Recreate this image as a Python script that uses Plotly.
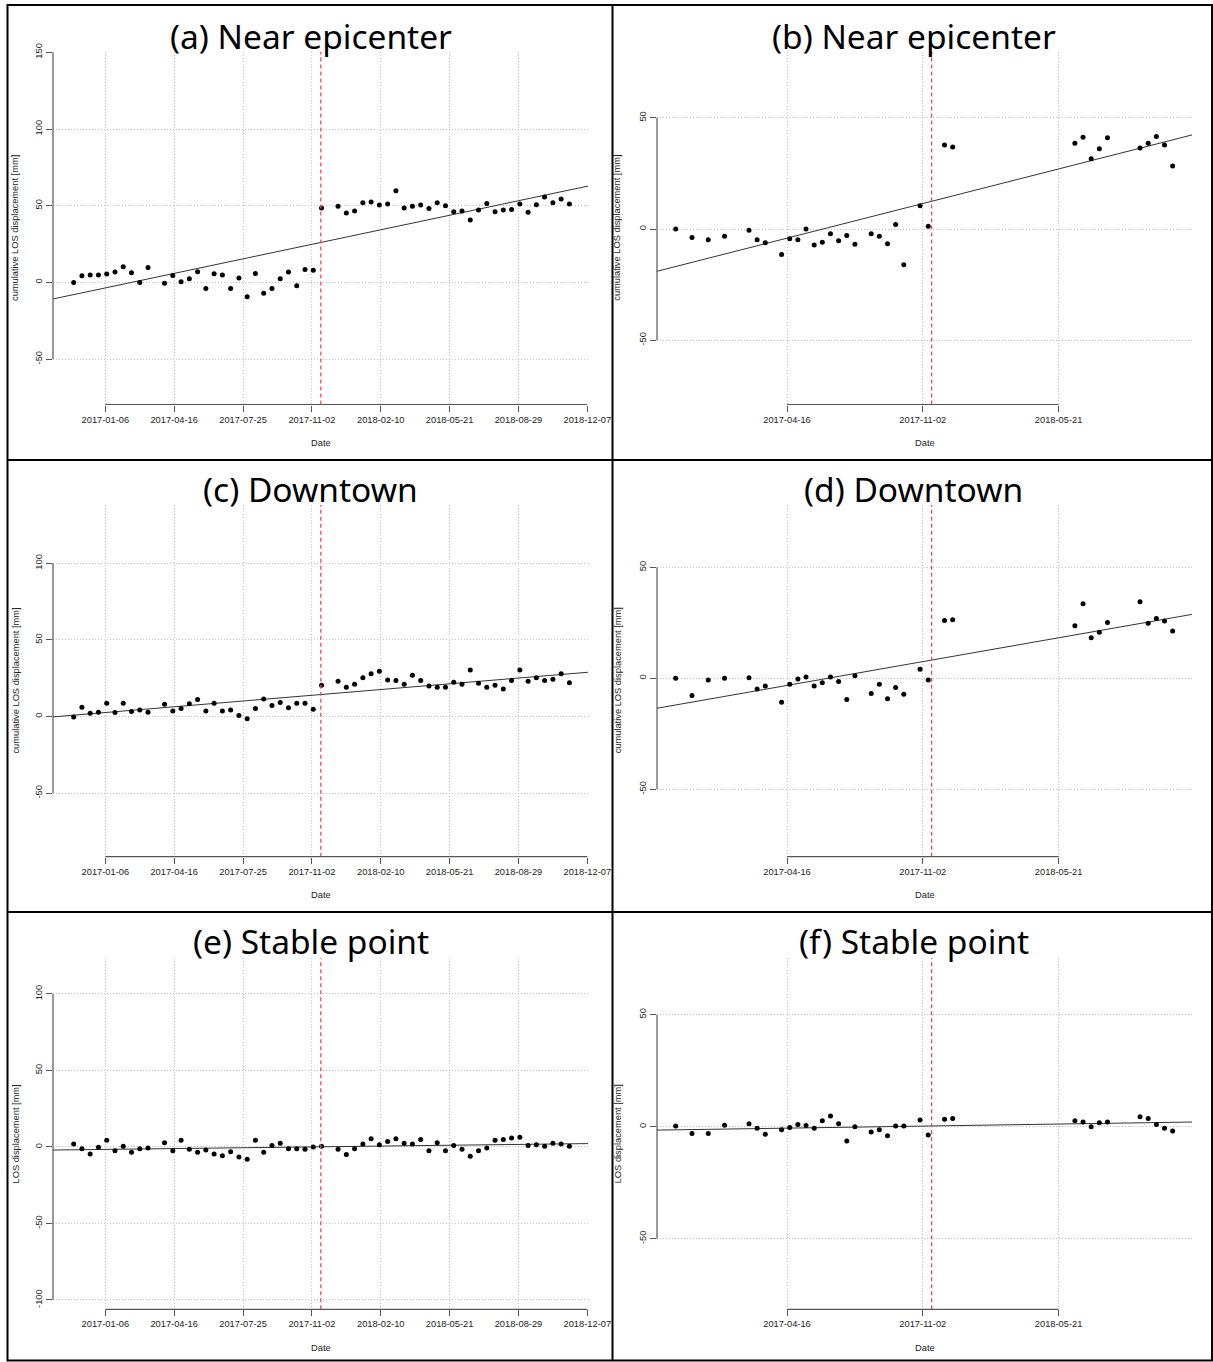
import plotly.graph_objects as go

W, H = 1213, 1362

# ---------------- data ----------------
# acquisition dates, track used in (a), (c), (e)
dates_track1 = [
    "2016-11-21", "2016-12-03", "2016-12-15", "2016-12-27", "2017-01-08", "2017-01-20",
    "2017-02-01", "2017-02-13", "2017-02-25", "2017-03-09", "2017-04-02", "2017-04-14",
    "2017-04-26", "2017-05-08", "2017-05-20", "2017-06-01", "2017-06-13", "2017-06-25",
    "2017-07-07", "2017-07-19", "2017-07-31", "2017-08-12", "2017-08-24", "2017-09-05",
    "2017-09-17", "2017-09-29", "2017-10-11", "2017-10-23", "2017-11-04", "2017-11-16",
    "2017-12-10", "2017-12-22", "2018-01-03", "2018-01-15", "2018-01-27", "2018-02-08",
    "2018-02-20", "2018-03-04", "2018-03-16", "2018-03-28", "2018-04-09", "2018-04-21",
    "2018-05-03", "2018-05-15", "2018-05-27", "2018-06-08", "2018-06-20", "2018-07-02",
    "2018-07-14", "2018-07-26", "2018-08-07", "2018-08-19", "2018-08-31", "2018-09-12",
    "2018-09-24", "2018-10-06", "2018-10-18", "2018-10-30", "2018-11-11",
]
# acquisition dates, track used in (b), (d), (f)
dates_track2 = [
    "2016-11-03", "2016-11-27", "2016-12-21", "2017-01-14", "2017-02-19", "2017-03-03",
    "2017-03-15", "2017-04-08", "2017-04-20", "2017-05-02", "2017-05-14", "2017-05-26",
    "2017-06-07", "2017-06-19", "2017-07-01", "2017-07-13", "2017-07-25", "2017-08-18",
    "2017-08-30", "2017-09-11", "2017-09-23", "2017-10-05", "2017-10-29", "2017-11-10",
    "2017-12-04", "2017-12-16", "2018-06-14", "2018-06-26", "2018-07-08", "2018-07-20",
    "2018-08-01", "2018-09-18", "2018-09-30", "2018-10-12", "2018-10-24", "2018-11-05",
]
quake_date = "2017-11-15"

los_a = [0.0, 4.3, 4.8, 4.8, 5.4, 6.7, 10.2, 6.3, 0.0, 9.7, -0.6, 4.5, 0.4, 2.4, 6.9,
         -3.9, 5.6, 4.8, -3.9, 2.8, -9.3, 5.8, -7.1, -3.9, 2.4, 6.7, -2.2, 8.4, 8.0,
         48.5, 49.6, 45.2, 46.5, 51.9, 52.4, 50.4, 51.1, 59.7, 48.5, 49.6, 50.4, 48.1,
         51.9, 50.0, 46.1, 46.5, 40.7, 47.2, 51.5, 46.1, 47.2, 47.6, 51.1, 45.7, 50.6,
         55.6, 51.9, 54.3, 51.1]
los_c = [-0.2, 6.1, 2.2, 2.8, 8.7, 2.6, 8.7, 3.3, 4.3, 2.8, 8.0, 3.7, 5.2, 8.3, 11.1,
         3.7, 8.7, 3.7, 4.3, 0.7, -1.5, 5.2, 11.5, 7.2, 9.1, 5.7, 8.7, 8.7, 4.8,
         20.4, 23.0, 19.1, 21.1, 25.4, 28.0, 29.6, 23.9, 23.5, 21.1, 27.0, 23.5, 20.0,
         19.1, 19.1, 22.4, 21.1, 30.4, 21.7, 19.1, 20.4, 18.0, 23.5, 30.4, 23.0, 25.4,
         23.5, 24.3, 28.0, 22.0]
los_e = [2.0, -1.1, -4.6, -0.2, 4.4, -2.4, 0.4, -3.5, -1.1, -0.7, 2.8, -2.4, 4.4, -1.5,
         -3.5, -2.0, -4.6, -5.7, -3.1, -6.5, -8.1, 4.4, -3.5, 0.9, 2.4, -1.1, -1.1, -1.5,
         0.0, 0.4, -1.5, -5.0, -1.1, 2.0, 5.4, 1.5, 3.5, 5.4, 2.4, 2.0, 4.8, -2.4, 2.8,
         -2.4, 0.9, -1.5, -6.1, -2.4, -0.7, 4.4, 4.8, 5.9, 6.3, 0.9, 1.5, 0.4, 2.4, 2.0, 0.4]
los_b = [0.0, -3.8, -4.8, -3.2, -0.6, -4.8, -6.2, -11.4, -4.4, -4.8, 0.0, -7.2, -5.9,
         -2.1, -5.3, -2.9, -6.9, -2.1, -3.2, -6.6, 2.0, -16.1, 10.5, 1.2, 37.8, 36.9,
         38.6, 41.3, 31.6, 36.1, 41.0, 36.4, 38.6, 41.6, 37.8, 28.3]
los_d = [0.0, -7.8, -0.8, 0.0, 0.3, -4.8, -3.5, -10.8, -2.7, -0.3, 0.6, -3.5, -2.0, 0.6,
         -1.4, -9.5, 1.1, -6.9, -2.7, -9.2, -4.1, -7.2, 4.1, -0.8, 26.1, 26.4, 23.7,
         33.6, 18.3, 20.7, 25.1, 34.5, 24.8, 27.0, 25.8, 21.3]
los_f = [0.3, -3.0, -3.0, 0.7, 1.3, -0.7, -3.4, -1.3, -0.3, 1.0, 0.6, -0.7, 2.7, 4.8,
         1.3, -6.4, 0.0, -2.4, -1.3, -4.0, 0.3, 0.3, 3.0, -3.7, 3.4, 3.7, 2.7, 2.1, 0.0,
         1.8, 2.1, 4.5, 3.7, 1.0, -0.7, -1.9]

# linear trend values at the start / end of each panel's date range
trend_a = [-10.8, 62.8]
trend_c = [-0.2, 28.9]
trend_e = [-2.0, 2.2]
trend_b = [-19.0, 42.3]
trend_d = [-13.5, 28.8]
trend_f = [-1.5, 2.1]

xticks_track1 = ["2017-01-06", "2017-04-16", "2017-07-25", "2017-11-02",
                 "2018-02-10", "2018-05-21", "2018-08-29", "2018-12-07"]
xticks_track2 = ["2017-04-16", "2017-11-02", "2018-05-21"]
yticks_a = [-50, 0, 50, 100, 150]
yticks_c = [-50, 0, 50, 100]
yticks_e = [-100, -50, 0, 50, 100]
yticks_bdf = [-50, 0, 50]

ytitle_cum = "cumulative LOS displacement [mm]"
ytitle_los = "LOS displacement [mm]"
xtitle = "Date"

# ---------------- layout geometry (pixels of the 1213x1362 page) ----------------
COL_X = [(53, 588), (657, 1192)]
ROW_Y = [(52, 404.5), (505, 856.7), (958.3, 1309.3)]
XRANGE = [["2016-10-22", "2018-12-08"], ["2016-10-06 12:00", "2018-12-03 12:00"]]
TITLE_Y = [36, 489, 941]
TITLE_X = [310.5, 913.5]
YTITLE_X = [15.7, 617.5]


def fx(px):
    return px / W


def fy(py):
    return 1 - py / H


panels = [
    ("(a) Near epicenter", 0, 0, dates_track1, los_a, trend_a, [-79.6, 150.2], yticks_a, ytitle_cum, xticks_track1),
    ("(b) Near epicenter", 0, 1, dates_track2, los_b, trend_b, [-78.9, 79.6], yticks_bdf, ytitle_cum, xticks_track2),
    ("(c) Downtown", 1, 0, dates_track1, los_c, trend_c, [-91.4, 138.0], yticks_c, ytitle_cum, xticks_track1),
    ("(d) Downtown", 1, 1, dates_track2, los_d, trend_d, [-80.4, 78.1], yticks_bdf, ytitle_cum, xticks_track2),
    ("(e) Stable point", 2, 0, dates_track1, los_e, trend_e, [-106.1, 123.3], yticks_e, ytitle_los, xticks_track1),
    ("(f) Stable point", 2, 1, dates_track2, los_f, trend_f, [-81.5, 75.2], yticks_bdf, ytitle_los, xticks_track2),
]

AX_COL = "#555555"
GRID_COL = "#c4c4c4"
TICK_FONT = dict(family="Liberation Sans, Arial, sans-serif", size=9.3, color="#222222")

fig = go.Figure()
shapes = []
annotations = []
layout_axes = {}

for i, (title, row, col, dates, vals, trend, yr, yt, ytitle, xt) in enumerate(panels):
    n = i + 1
    sfx = "" if n == 1 else str(n)
    xref, yref = "x" + sfx, "y" + sfx
    x0, x1 = COL_X[col]
    y0, y1 = ROW_Y[row]

    layout_axes["xaxis" + sfx] = dict(
        domain=[fx(x0), fx(x1)], anchor=yref, type="date", range=XRANGE[col], automargin=False,
        tickvals=xt, ticktext=xt, ticks="outside", ticklen=6, tickwidth=1, tickcolor=AX_COL,
        showline=False, zeroline=False, showgrid=True, gridcolor=GRID_COL, gridwidth=1,
        griddash="1px,2px", tickfont=TICK_FONT, fixedrange=True,
    )
    layout_axes["yaxis" + sfx] = dict(
        domain=[fy(y1), fy(y0)], anchor=xref, range=yr, automargin=False,
        tickvals=yt, ticktext=[str(v) for v in yt], tickangle=-90,
        ticks="outside", ticklen=6, tickwidth=1, tickcolor=AX_COL,
        showline=False, zeroline=False, showgrid=True, gridcolor=GRID_COL, gridwidth=1,
        griddash="1px,2px", tickfont=TICK_FONT, fixedrange=True,
    )

    # trend line
    fig.add_trace(go.Scatter(
        x=XRANGE[col], y=trend, mode="lines", xaxis=xref, yaxis=yref,
        line=dict(color="#333333", width=1), hoverinfo="skip", showlegend=False,
    ))
    # observations
    fig.add_trace(go.Scatter(
        x=dates, y=vals, mode="markers", xaxis=xref, yaxis=yref,
        marker=dict(color="black", size=5), showlegend=False,
    ))

    # earthquake line
    shapes.append(dict(type="line", xref=xref, yref=yref + " domain", x0=quake_date, x1=quake_date,
                       y0=0, y1=1, line=dict(color="rgb(255,70,70)", width=1.3, dash="4px,3px")))
    # R-style axis lines (span first to last tick only)
    shapes.append(dict(type="line", xref=xref, yref=yref + " domain", x0=xt[0], x1=xt[-1],
                       y0=0, y1=0, line=dict(color=AX_COL, width=1.2)))
    shapes.append(dict(type="line", xref=xref + " domain", yref=yref, x0=0, x1=0,
                       y0=yt[0], y1=yt[-1], line=dict(color=AX_COL, width=1.2)))

    # panel title
    annotations.append(dict(text=title, x=fx(TITLE_X[col]), y=fy(TITLE_Y[row]), xref="paper", yref="paper",
                            xanchor="center", yanchor="middle", showarrow=False,
                            font=dict(family="Noto Sans, sans-serif", size=33.5, color="black")))
    # y-axis title
    annotations.append(dict(text=ytitle, x=fx(YTITLE_X[col]), y=fy((y0 + y1) / 2), xref="paper", yref="paper",
                            xanchor="center", yanchor="middle", textangle=-90, showarrow=False,
                            font=TICK_FONT))
    # x-axis title
    annotations.append(dict(text=xtitle, x=fx((x0 + x1) / 2), y=fy(y1 + 38.5), xref="paper", yref="paper",
                            xanchor="center", yanchor="middle", showarrow=False, font=TICK_FONT))

# panel frame (table borders)
frame = dict(color="black", width=2)
shapes.append(dict(type="rect", xref="paper", yref="paper", x0=fx(7.5), x1=fx(1212), y0=fy(1360.5), y1=fy(5),
                   line=frame))
shapes.append(dict(type="line", xref="paper", yref="paper", x0=fx(612.5), x1=fx(612.5), y0=fy(1360.5), y1=fy(5),
                   line=frame))
shapes.append(dict(type="line", xref="paper", yref="paper", x0=fx(7.5), x1=fx(1212), y0=fy(460), y1=fy(460),
                   line=frame))
shapes.append(dict(type="line", xref="paper", yref="paper", x0=fx(7.5), x1=fx(1212), y0=fy(912), y1=fy(912),
                   line=frame))

fig.update_layout(
    width=W, height=H, margin=dict(l=0, r=0, t=0, b=0, pad=0, autoexpand=False),
    paper_bgcolor="white", plot_bgcolor="white", showlegend=False,
    shapes=shapes, annotations=annotations, **layout_axes,
)

fig.write_html(
    "out.html",
    config={"displayModeBar": False},
    post_script=(
        "document.documentElement.style.margin='0';"
        "document.documentElement.style.overflow='hidden';"
        "document.body.style.margin='0';document.body.style.padding='0';"
        "document.body.style.overflow='hidden';"
    ),
)
